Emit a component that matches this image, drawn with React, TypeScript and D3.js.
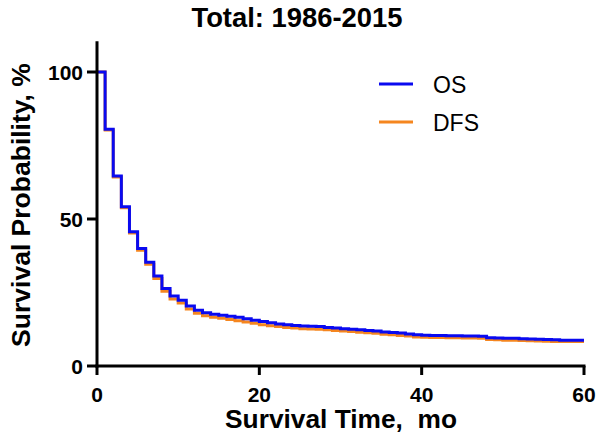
import React from "react";
import * as d3 from "d3";

const months = d3.range(0, 61);
const osValues = [100, 80.5, 64.6, 54.2, 45.7, 40.0, 35.3, 30.6, 26.4, 23.8, 22.4, 20.4, 19.0, 18.1, 17.6, 17.3, 16.9, 16.6, 16.1, 15.6, 15.1, 14.7, 14.3, 14.0, 13.8, 13.6, 13.5, 13.4, 13.1, 12.9, 12.7, 12.5, 12.3, 12.1, 11.9, 11.6, 11.4, 11.2, 10.9, 10.6, 10.5, 10.4, 10.4, 10.3, 10.3, 10.2, 10.2, 10.1, 9.6, 9.5, 9.4, 9.4, 9.3, 9.2, 9.1, 9.0, 8.9, 8.8, 8.8, 8.8, 8.8];
const dfsValues = [100, 80.3, 64.3, 53.8, 45.2, 39.4, 34.6, 29.8, 25.4, 22.8, 21.4, 19.4, 17.9, 17.1, 16.6, 16.2, 15.8, 15.4, 15.0, 14.5, 14.0, 13.7, 13.4, 13.1, 12.9, 12.7, 12.6, 12.5, 12.3, 12.1, 11.9, 11.7, 11.5, 11.3, 11.1, 10.8, 10.6, 10.4, 10.2, 9.9, 9.8, 9.7, 9.7, 9.6, 9.6, 9.5, 9.5, 9.4, 9.0, 8.9, 8.8, 8.8, 8.7, 8.6, 8.5, 8.4, 8.3, 8.3, 8.3, 8.3, 8.3];
const xTicks = [0, 20, 40, 60];
const yTicks = [0, 50, 100];
const seriesNames = ["OS", "DFS"];
const seriesColors = ["#0a0af0", "#f5861f"];

const W = 600, H = 439;
const x = d3.scaleLinear().domain([0, 60]).range([97, 584]);
const y = d3.scaleLinear().domain([0, 100]).range([366, 72]);
const yTop = 110.5;

export default function App() {
  const line = d3
    .line<[number, number]>()
    .x((d) => x(d[0]))
    .y((d) => y(d[1]))
    .curve(d3.curveStepAfter);
  const os: [number, number][] = months.map((m, i) => [m, osValues[i]]);
  const dfs: [number, number][] = months.map((m, i) => [m, dfsValues[i]]);
  const font = "'Liberation Sans', Arial, sans-serif";
  return (
    <svg width={W} height={H} style={{ position: "absolute", left: 0, top: 0, background: "#fff" }} fontFamily={font}>
      <rect width={W} height={H} fill="#fff" />
      <text x={297} y={27} textAnchor="middle" fontSize={27.4} fontWeight="bold">Total: 1986-2015</text>
      {/* curves */}
      <path d={line(dfs) || ""} fill="none" stroke={seriesColors[1]} strokeWidth={3} />
      <path d={line(os) || ""} fill="none" stroke={seriesColors[0]} strokeWidth={3} />
      {/* axes */}
      <line x1={x(0)} x2={x(0)} y1={y(0) + 1.5} y2={y(yTop)} stroke="#000" strokeWidth={3} />
      <line x1={x(0) - 1.5} x2={x(60) + 1.5} y1={y(0)} y2={y(0)} stroke="#000" strokeWidth={3} />
      {yTicks.map((t) => (
        <g key={"y" + t}>
          <line x1={x(0) - 10} x2={x(0)} y1={y(t)} y2={y(t)} stroke="#000" strokeWidth={3} />
          <text x={x(0) - 14} y={y(t)} dy="0.36em" textAnchor="end" fontSize={21} fontWeight="bold">{t}</text>
        </g>
      ))}
      {xTicks.map((t) => (
        <g key={"x" + t}>
          <line x1={x(t)} x2={x(t)} y1={y(0)} y2={y(0) + 9} stroke="#000" strokeWidth={3} />
          <text x={x(t)} y={402} textAnchor="middle" fontSize={21} fontWeight="bold">{t}</text>
        </g>
      ))}
      <text x={341} y={428} textAnchor="middle" fontSize={26.3} fontWeight="bold" style={{ whiteSpace: "pre" }}>Survival Time,  mo</text>
      <text transform="translate(30,205) rotate(-90)" textAnchor="middle" fontSize={26.5} fontWeight="bold">Survival Probability, %</text>
      {/* legend */}
      {seriesNames.map((n, i) => (
        <g key={n}>
          <line x1={379} x2={413} y1={84 + i * 38} y2={84 + i * 38} stroke={seriesColors[i]} strokeWidth={3} />
          <text x={433} y={93 + i * 38} fontSize={23}>{n}</text>
        </g>
      ))}
    </svg>
  );
}
